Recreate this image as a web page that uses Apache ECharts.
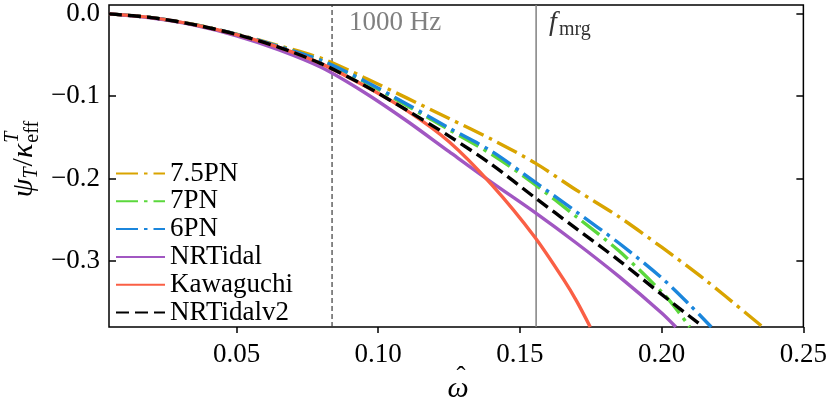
<!DOCTYPE html>
<html>
<head>
<meta charset="utf-8">
<script src="https://cdn.jsdelivr.net/npm/echarts@6/dist/echarts.min.js"></script>
<style>
  html, body { margin: 0; background: #fff; }
  #chart { width: 830px; height: 398px; }
</style>
</head>
<body>
<div id="chart"></div>
<script>
// tidal phase vs. dimensionless frequency
const pn75 = [[0.005, -0.0005], [0.02, -0.005], [0.035, -0.0133], [0.05, -0.025], [0.065, -0.039], [0.08, -0.0545], [0.095, -0.0775], [0.11, -0.1023], [0.125, -0.1273], [0.14, -0.1525], [0.155, -0.1805], [0.17, -0.2143], [0.185, -0.2466], [0.2, -0.2833], [0.215, -0.3219], [0.23, -0.3639], [0.2357, -0.38]]
const pn7 = [[0.005, -0.0005], [0.02, -0.005], [0.035, -0.0134], [0.05, -0.0253], [0.065, -0.0402], [0.08, -0.0575], [0.095, -0.0825], [0.11, -0.1116], [0.125, -0.1409], [0.14, -0.1707], [0.155, -0.2065], [0.17, -0.2466], [0.185, -0.288], [0.2, -0.3375], [0.205, -0.3575], [0.2099, -0.38]]
const pn6 = [[0.005, -0.0005], [0.02, -0.005], [0.035, -0.0134], [0.05, -0.0252], [0.065, -0.04], [0.08, -0.057], [0.095, -0.0814], [0.11, -0.1096], [0.125, -0.1389], [0.14, -0.167], [0.155, -0.2035], [0.17, -0.2407], [0.185, -0.2785], [0.2, -0.3205], [0.21, -0.3535], [0.2175, -0.38]]
const nrTidal = [[0.005, -0.0005], [0.02, -0.0055], [0.035, -0.014], [0.05, -0.027], [0.065, -0.044], [0.08, -0.0654], [0.095, -0.0954], [0.11, -0.13], [0.125, -0.1675], [0.14, -0.2047], [0.155, -0.2405], [0.17, -0.2785], [0.185, -0.319], [0.2, -0.363], [0.205, -0.38]]
const kawaguchi = [[0.005, -0.0005], [0.02, -0.005], [0.035, -0.0135], [0.05, -0.0255], [0.065, -0.041], [0.08, -0.061], [0.095, -0.0874], [0.11, -0.1175], [0.125, -0.1555], [0.14, -0.2075], [0.155, -0.27], [0.1656, -0.3235], [0.17, -0.3487], [0.1748, -0.38]]
const nrTidalV2 = [[0.005, -0.0005], [0.02, -0.005], [0.035, -0.0135], [0.05, -0.0255], [0.065, -0.041], [0.08, -0.061], [0.095, -0.087], [0.11, -0.117], [0.125, -0.1486], [0.14, -0.183], [0.155, -0.2225], [0.17, -0.261], [0.185, -0.2995], [0.2, -0.3405], [0.2147, -0.38]]

const xTicks = [0.05, 0.10, 0.15, 0.20, 0.25]
const yTicks = [0.0, -0.1, -0.2, -0.3]
const f1000 = 0.0837 // 1000 Hz
const fMrg = 0.1557 // merger frequency

const xMin = 0.005
const xMax = 0.25
const yMin = -0.38
const yMax = 0.0103

const SERIF = '"Liberation Serif", "DejaVu Serif", serif'
const font = (size, italic) => (italic ? 'italic ' : '') + size + 'px ' + SERIF
const DASHDOT = [22, 6, 3.5, 6]

const chart = echarts.init(document.getElementById('chart'), null, { renderer: 'canvas' })

function lineSeries (name, data, color, dash) {
  return {
    name: name,
    type: 'line',
    data: data,
    symbol: 'none',
    showSymbol: false,
    smooth: 0.3,
    clip: true,
    lineStyle: { color: color, width: 3.4, type: dash, cap: 'butt' },
    itemStyle: { color: color }
  }
}

// vertical reference lines as two-point series
function vLine (x, color, width, dash) {
  return {
    type: 'line',
    data: [[x, yMin], [x, yMax]],
    symbol: 'none',
    silent: true,
    lineStyle: { color: color, width: width, type: dash }
  }
}

const series = [
  vLine(f1000, '#3a3a3a', 1.2, [5, 3]),
  vLine(fMrg, '#808080', 1.5, 'solid'),
  lineSeries('7.5PN', pn75, '#d9a400', DASHDOT),
  lineSeries('7PN', pn7, '#5bd83c', DASHDOT),
  lineSeries('6PN', pn6, '#1b86dc', DASHDOT),
  lineSeries('NRTidal', nrTidal, '#a157c2', 'solid'),
  lineSeries('Kawaguchi', kawaguchi, '#fa5f45', 'solid'),
  lineSeries('NRTidalv2', nrTidalV2, '#000000', [13, 6])
]

const yAxisBase = {
  type: 'value',
  min: yMin,
  max: yMax,
  axisLine: { show: false, onZero: false },
  splitLine: { show: false },
  axisTick: { show: true, inside: true, length: 7, customValues: yTicks, lineStyle: { color: '#000', width: 1.5 } }
}

chart.setOption({
  animation: false,
  grid: { left: 109, right: 24, top: 2, bottom: 71, show: true, borderColor: '#000', borderWidth: 1.5 },
  legend: {
    orient: 'vertical',
    left: 110,
    top: 155,
    itemWidth: 49,
    itemHeight: 10,
    itemGap: 0.8,
    itemStyle: { opacity: 0, borderWidth: 0 },
    textStyle: { fontFamily: SERIF, fontSize: 27, color: '#000', lineHeight: 26 },
    data: ['7.5PN', '7PN', '6PN', 'NRTidal', 'Kawaguchi', 'NRTidalv2']
  },
  xAxis: {
    type: 'value',
    min: xMin,
    max: xMax,
    axisLine: { show: false, onZero: false },
    splitLine: { show: false },
    axisTick: { show: true, length: 6, customValues: xTicks, lineStyle: { color: '#000', width: 1.5 } },
    axisLabel: {
      customValues: xTicks,
      formatter: v => v.toFixed(2),
      margin: 14,
      color: '#000',
      fontFamily: SERIF,
      fontSize: 27
    }
  },
  yAxis: [
    Object.assign({}, yAxisBase, {
      position: 'left',
      axisLabel: {
        customValues: yTicks,
        formatter: v => (v < 0 ? '\u2212' : '') + Math.abs(v).toFixed(1),
        margin: 9,
        color: '#000',
        fontFamily: SERIF,
        fontSize: 27
      }
    }),
    Object.assign({}, yAxisBase, { position: 'right', axisLabel: { show: false } })
  ],
  series: series
})

// labels: measured with canvas so sub/superscripts sit right
const ctx = document.createElement('canvas').getContext('2d')
const tw = (t, f) => { ctx.font = f; return ctx.measureText(t).width }

const fBig = font(30, true)
const fSubI = font(20, true)
const fSub = font(20, false)
const fSlash = font(30, false)
const fUp = font(27, false)
const wPsi = tw('ψ', fBig)
const wT = tw('T', fSubI)
const wSl = tw('/', fSlash)
const wK = tw('κ', fBig)
const wEff = tw('eff', fSub)
const total = wPsi + wT + wSl + wK + Math.max(wT, wEff)
const x0 = -total / 2
const txt = (x, y, text, f, fill) => ({
  type: 'text', x: x, y: y, silent: true,
  style: { text: text, font: f, fill: fill || '#000', align: 'left', verticalAlign: 'middle' }
})

const p1000 = chart.convertToPixel({ gridIndex: 0 }, [f1000, 0])
const pMrg = chart.convertToPixel({ gridIndex: 0 }, [fMrg, 0])
const fF = font(28, true)
const wf = tw('f', fF)

chart.setOption({
  graphic: [
    {
      type: 'group', x: 24, y: 160, rotation: Math.PI / 2,
      children: [
        txt(x0, 0, 'ψ', fBig),
        txt(x0 + wPsi, 8, 'T', fSubI),
        txt(x0 + wPsi + wT + 1, 0, '/', fSlash),
        txt(x0 + wPsi + wT + wSl + 1, 0, 'κ', fBig),
        txt(x0 + wPsi + wT + wSl + wK + 2, -11, 'T', fSubI),
        txt(x0 + wPsi + wT + wSl + wK + 2, 9, 'eff', fSub)
      ]
    },
    { type: 'text', x: 458, y: 389, silent: true, style: { text: 'ω', font: fBig, fill: '#000', align: 'center', verticalAlign: 'middle' } },
    { type: 'text', x: 461, y: 378, silent: true, style: { text: 'ˆ', font: fUp, fill: '#000', align: 'center', verticalAlign: 'middle' } },
    txt(p1000[0] + 17, 23, '1000 Hz', fUp, '#808080'),
    txt(pMrg[0] + 13, 23, 'f', fF, '#333333'),
    txt(pMrg[0] + 13 + wf + 2, 30, 'mrg', fSub, '#333333')
  ]
})
</script>
</body>
</html>
